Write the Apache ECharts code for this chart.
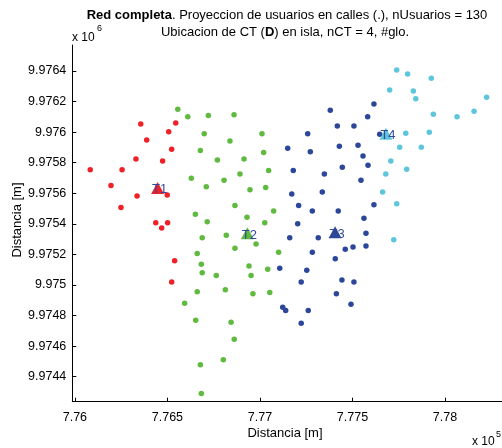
<!DOCTYPE html>
<html>
<head>
<meta charset="utf-8">
<script src="https://cdn.jsdelivr.net/npm/echarts@6/dist/echarts.min.js"></script>
<style>html,body{margin:0;padding:0;background:#fff;}#c{width:502px;height:448px;}</style>
</head>
<body>
<div id="c"></div>
<script>
// Coordinates in metres (easting, northing)
const redPts = [
  [776083,9975754],[776195,9975650],[776255,9975754],[776249,9975506],[776330,9975824],
  [776336,9975582],[776356,9976053],[776388,9975949],[776437,9975407],[776469,9975373],
  [776474,9975811],[776499,9975589],[776501,9975407],[776507,9976003],[776523,9975888],
  [776545,9976060],[776539,9975159],[776523,9975020]
];
const greenPts = [
  [776556,9976149],[776610,9976101],[776721,9976108],[776860,9976114],[776699,9975990],
  [777011,9975990],[776838,9975942],[776678,9975879],[777020,9975866],[776770,9975818],
  [776914,9975824],[777047,9975748],[776892,9975726],[776629,9975698],[776806,9975685],
  [776710,9975643],[776946,9975623],[777031,9975637],[776865,9975519],[777074,9975484],
  [776651,9975462],[776930,9975443],[776715,9975414],[777026,9975407],[776688,9975309],
  [776818,9975325],[776979,9975268],[776865,9975240],[777101,9975214],[776661,9975205],
  [776683,9975135],[776941,9975124],[776688,9975080],[776764,9975061],[776952,9975061],
  [777042,9975103],[776661,9974956],[776813,9974969],[776962,9974943],[777053,9974950],
  [776593,9974880],[776653,9974769],[776844,9974756],[776861,9974645],[776802,9974511],
  [776678,9974477],[776683,9974289]
];
const bluePts = [
  [777380,9976143],[777616,9976184],[777582,9976101],[777418,9976040],[777508,9976040],
  [777258,9975990],[777647,9975986],[777150,9975894],[777272,9975872],[777429,9975907],
  [777530,9975914],[777557,9975844],[777180,9975748],[777348,9975726],[777445,9975770],
  [777584,9975783],[777546,9975685],[777172,9975595],[777337,9975608],[777209,9975519],
  [777283,9975484],[777423,9975484],[777616,9975525],[777562,9975436],[777204,9975401],
  [777573,9975338],[777161,9975309],[777315,9975309],[777461,9975233],[777503,9975249],
  [777573,9975255],[777283,9975214],[777407,9975172],[777107,9975109],[777253,9975096],
  [777223,9975020],[777443,9975033],[777508,9975020],[777413,9974943],[777123,9974854],
  [777139,9974832],[777261,9974832],[777492,9974874],[777223,9974749]
];
const cyanPts = [
  [777739,9976407],[777798,9976380],[777926,9976352],[777701,9976276],[777829,9976269],
  [777842,9976219],[778225,9976228],[778157,9976136],[778065,9976101],[777937,9976117],
  [777788,9975992],[777915,9975999],[777755,9975901],[777872,9975901],[777707,9975811],
  [777793,9975757],[777680,9975726],[777663,9975608],[777739,9975532],[777723,9975296]
];
const ctNames = ['T1','T2','T3','T4'];
const ctX = [776447,776932,777406,777681];
const ctY = [9975635,9975338,9975345,9975990];
const xTicks = [776000,776500,777000,777500,778000];
const yTicks = [9974400,9974600,9974800,9975000,9975200,9975400,9975600,9975800,9976000,9976200,9976400];

const colors = ['#ee2129','#5fba3f','#2c4799','#5ec6dc'];
const FONT = 'Liberation Sans, Arial, sans-serif';

const chart = echarts.init(document.getElementById('c'), null, {renderer:'canvas'});
const dotSeries = [redPts, greenPts, bluePts, cyanPts].map((d,i)=>({
  type:'scatter', data:d, symbol:'circle', symbolSize:5.5,
  itemStyle:{color:colors[i], opacity:1}, silent:true, animation:false, z:2
}));
const ctSeries = {
  type:'scatter', animation:false, silent:true, z:3,
  symbol:'triangle', symbolSize:[13,12],
  data: ctNames.map((n,i)=>({name:n, value:[ctX[i],ctY[i]], itemStyle:{color:colors[i], opacity:1}})),
  label:{show:true, position:'inside', offset:[2,2], formatter:'{b}', color:'#34499c',
    fontFamily:FONT, fontSize:13}
};
chart.setOption({
  animation:false,
  grid:{left:72.3, right:0, top:45, bottom:46.3, containLabel:false, outerBoundsMode:'none'},
  xAxis:{type:'value', min:775986, max:778308,
    axisLine:{show:true, onZero:false, lineStyle:{color:'#000', width:1}},
    axisTick:{show:true, inside:true, length:4, customValues:xTicks, lineStyle:{color:'#000'}},
    axisLabel:{customValues:xTicks, color:'#000', fontFamily:FONT, fontSize:12.5, margin:9,
      formatter:v=>String(parseFloat((v/1e5).toFixed(4)))},
    splitLine:{show:false}},
  yAxis:{type:'value', min:9974236, max:9976570,
    axisLine:{show:true, onZero:false, lineStyle:{color:'#000', width:1}},
    axisTick:{show:true, inside:true, length:4, customValues:yTicks, lineStyle:{color:'#000'}},
    axisLabel:{customValues:yTicks, color:'#000', fontFamily:FONT, fontSize:12.5, margin:6,
      formatter:v=>String(parseFloat((v/1e6).toFixed(4)))},
    splitLine:{show:false}},
  graphic:[
    {type:'text', x:287, y:15, style:{text:'{b|Red completa}. Proyeccion de usuarios en calles (.), nUsuarios = 130',
      align:'center', verticalAlign:'middle', font:'13px '+FONT, fill:'#000',
      rich:{b:{fontWeight:'bold', fontSize:13, fontFamily:FONT}}}},
    {type:'text', x:285, y:32, style:{text:'Ubicacion de CT ({b|D}) en isla, nCT = 4, #glo.',
      align:'center', verticalAlign:'middle', font:'13px '+FONT, fill:'#000',
      rich:{b:{fontWeight:'bold', fontSize:13, fontFamily:FONT}}}},
    {type:'text', x:72, y:38, style:{text:'x 10', align:'left', verticalAlign:'middle', font:'12px '+FONT, fill:'#000'}},
    {type:'text', x:97, y:29, style:{text:'6', align:'left', verticalAlign:'middle', font:'9px '+FONT, fill:'#000'}},
    {type:'text', x:472, y:442, style:{text:'x 10', align:'left', verticalAlign:'middle', font:'12px '+FONT, fill:'#000'}},
    {type:'text', x:496, y:435, style:{text:'5', align:'left', verticalAlign:'middle', font:'9px '+FONT, fill:'#000'}},
    {type:'text', x:285, y:433, style:{text:'Distancia [m]', align:'center', verticalAlign:'middle', font:'13px '+FONT, fill:'#000'}},
    {type:'text', x:17, y:220, rotation:Math.PI/2, style:{text:'Distancia [m]', align:'center', verticalAlign:'middle', font:'13px '+FONT, fill:'#000'}}
  ],
  series:[...dotSeries, ctSeries]
});
</script>
</body>
</html>
